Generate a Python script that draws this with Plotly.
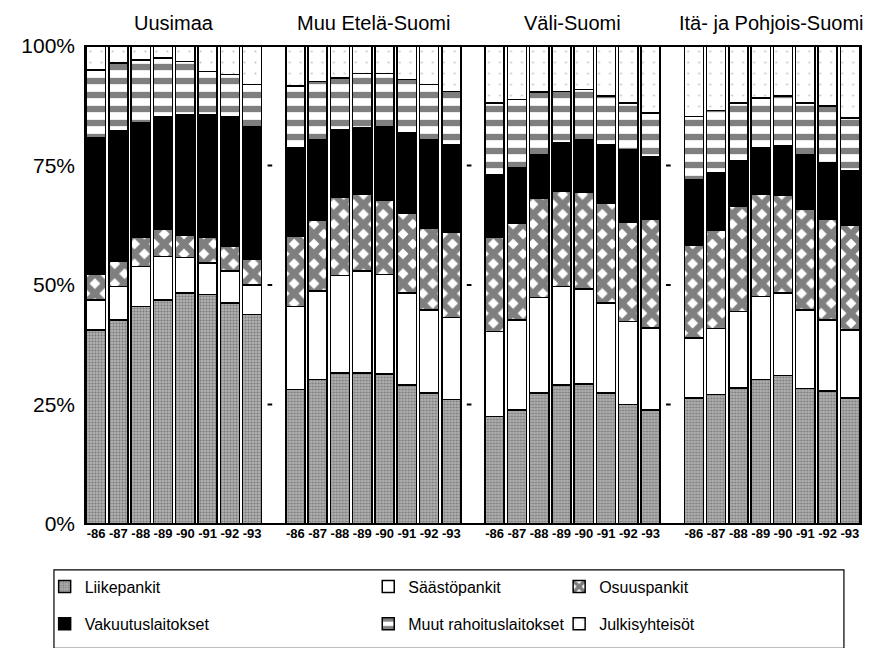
"""Rahoitussektorin osuudet alueittain 1986-1993 (pinotut pylväät)."""

import plotly.graph_objects as go
from plotly.subplots import make_subplots

YEARS = ["-86", "-87", "-88", "-89", "-90", "-91", "-92", "-93"]
REGIONS = ["Uusimaa", "Muu Etelä-Suomi", "Väli-Suomi", "Itä- ja Pohjois-Suomi"]
SECTORS = ["Liikepankit", "Säästöpankit", "Osuuspankit",
           "Vakuutuslaitokset", "Muut rahoituslaitokset", "Julkisyhteisöt"]

# osuudet % -- yksi rivi per alue (REGIONS-järjestys)
LIIKEPANKIT = [
    [40.6, 42.7, 45.5, 46.9, 48.3, 48.0, 46.2, 43.8],
    [28.1, 30.2, 31.6, 31.6, 31.4, 29.1, 27.4, 26.0],
    [22.5, 23.9, 27.4, 29.1, 29.3, 27.4, 25.0, 23.9],
    [26.4, 27.1, 28.5, 30.2, 31.1, 28.3, 27.8, 26.4],
]
SAASTOPANKIT = [
    [6.3, 7.0, 8.4, 9.1, 7.5, 6.6, 6.7, 6.2],
    [17.4, 18.5, 20.4, 21.3, 20.8, 19.2, 17.4, 17.2],
    [17.8, 18.8, 20.0, 20.6, 19.9, 18.8, 17.4, 17.1],
    [12.5, 13.8, 16.0, 17.4, 17.2, 16.5, 14.9, 14.2],
]
OSUUSPANKIT = [
    [5.3, 5.3, 6.1, 5.6, 4.7, 5.4, 5.2, 5.3],
    [14.7, 14.8, 16.3, 16.0, 15.6, 16.8, 17.1, 17.9],
    [19.7, 20.3, 20.8, 20.0, 20.3, 21.0, 20.8, 22.7],
    [19.5, 20.5, 22.0, 21.4, 20.5, 21.0, 21.0, 22.0],
]
VAKUUTUSLAITOKSET = [
    [28.6, 27.2, 23.9, 23.7, 25.1, 25.6, 27.2, 27.9],
    [18.5, 16.9, 14.2, 14.1, 15.4, 16.7, 18.5, 18.3],
    [13.1, 11.5, 9.1, 10.0, 10.9, 12.2, 15.1, 13.2],
    [13.6, 12.0, 9.4, 9.7, 10.4, 11.5, 11.8, 11.2],
]
MUUT_RAHOITUS = [
    [14.2, 14.2, 13.2, 12.2, 11.2, 9.1, 8.7, 8.7],
    [12.9, 12.2, 10.8, 11.3, 11.1, 11.2, 11.5, 11.1],
    [15.0, 14.3, 13.1, 10.8, 10.5, 10.1, 9.8, 9.1],
    [13.3, 13.1, 12.2, 10.4, 10.3, 10.8, 11.9, 11.1],
]
JULKISYHTEISOT = [
    [5.0, 3.6, 2.9, 2.5, 3.2, 5.3, 6.0, 8.1],
    [8.4, 7.4, 6.7, 5.7, 5.7, 7.0, 8.1, 9.5],
    [11.9, 11.2, 9.6, 9.5, 9.1, 10.5, 11.9, 14.0],
    [14.7, 13.5, 11.9, 10.9, 10.5, 11.9, 12.6, 15.1],
]

Y_TICKS = [0, 25, 50, 75, 100]
Y_LABELS = ["0%", "25%", "50%", "75%", "100%"]

_FONT = dict(family="Liberation Sans, Arial, sans-serif", size=16, color="black")

_MARKERS = [
    dict(color="#a8a8a8",
         pattern=dict(shape=".", fgcolor="#404040", bgcolor="#b0b0b0", size=3, solidity=0.35)),
    dict(color="white"),
    dict(color="white",
         pattern=dict(shape="x", fgcolor="black", bgcolor="white", size=14, solidity=0.7)),
    dict(color="black"),
    dict(color="white",
         pattern=dict(shape="-", fgcolor="black", bgcolor="white", size=14, solidity=0.45)),
    dict(color="white",
         pattern=dict(shape=".", fgcolor="#8a8a8a", bgcolor="white", size=11, solidity=0.03)),
]

# legendan sijainnit (paper-koordinaatit), 3 saraketta x 2 riviä
_LEG_X = [-0.052, 0.365, 0.611, -0.052, 0.365, 0.611]
_LEG_Y = [-0.131, -0.131, -0.131, -0.209, -0.209, -0.209]
_LEG_IDS = ["legend", "legend2", "legend3", "legend4", "legend5", "legend6"]

series = [LIIKEPANKIT, SAASTOPANKIT, OSUUSPANKIT,
          VAKUUTUSLAITOKSET, MUUT_RAHOITUS, JULKISYHTEISOT]

fig = make_subplots(rows=1, cols=4, shared_yaxes=True,
                    horizontal_spacing=0.027, subplot_titles=REGIONS)

for ri in range(len(REGIONS)):
    for si, name in enumerate(SECTORS):
        fig.add_trace(go.Bar(
            x=YEARS,
            y=series[si][ri],
            name=name,
            marker=dict(**_MARKERS[si], line=dict(color="black", width=1.5)),
            showlegend=(ri == 0),
            legend=_LEG_IDS[si],
            hovertemplate=f"{REGIONS[ri]} %{{x}}<br>{name}: %{{y:.1f}}%<extra></extra>",
        ), row=1, col=ri + 1)

fig.update_xaxes(showgrid=False, zeroline=False, showline=False, ticks="",
                 tickfont=dict(size=13, weight="bold"), range=[-0.5, 7.5])
fig.update_yaxes(range=[0, 100], tickvals=Y_TICKS, ticktext=Y_LABELS,
                 showgrid=False, zeroline=False, showline=False, ticks="",
                 tickfont=dict(size=21), ticklabelstandoff=9)

fig.update_annotations(font=dict(size=20), yshift=10)

# kehys kaavion ympärille
shapes = [dict(type="rect", xref="paper", yref="paper", x0=0, x1=1, y0=0, y1=1,
               line=dict(color="black", width=2), layer="above")]

# pienet asteikkoviivat paneelien välissä
doms = [fig.layout[f"xaxis{'' if i == 0 else i + 1}"].domain for i in range(4)]
for k in range(3):
    xm = (doms[k][1] + doms[k + 1][0]) / 2 - 0.005
    for yv in Y_TICKS[1:-1]:
        shapes.append(dict(type="line", xref="paper", yref="y", x0=xm - 0.003, x1=xm + 0.003,
                           y0=yv, y1=yv, line=dict(color="black", width=2)))

# legendan laatikko
shapes.append(dict(type="rect", xref="paper", yref="paper", x0=-0.04, x1=0.978,
                   y0=-0.26, y1=-0.096, line=dict(color="black", width=1.2)))

legends = {}
for lid, lx, ly in zip(_LEG_IDS, _LEG_X, _LEG_Y):
    legends[lid] = dict(x=lx, y=ly, xanchor="left", yanchor="middle",
                        font=dict(size=16), bgcolor="rgba(0,0,0,0)", itemwidth=30)

fig.update_layout(
    barmode="stack",
    bargap=0.14,
    width=880,
    height=648,
    margin=dict(l=77, r=27, t=38, b=132),
    paper_bgcolor="white",
    plot_bgcolor="white",
    font=_FONT,
    shapes=shapes,
    **legends,
)

fig.write_html("out.html")
